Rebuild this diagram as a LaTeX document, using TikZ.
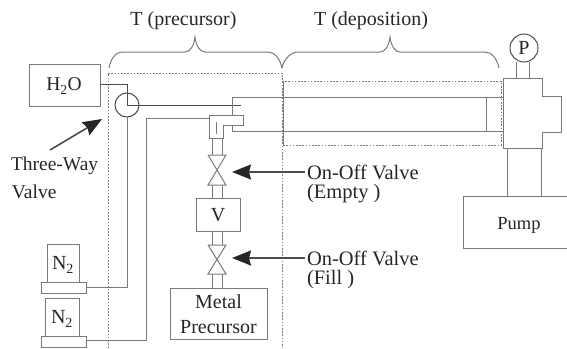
\documentclass[tikz,border=0pt]{standalone}
\usepackage{fontspec}
\setmainfont{Liberation Serif}
\usetikzlibrary{arrows.meta}
\definecolor{ln}{gray}{0.48}
\definecolor{dk}{gray}{0.3}
\definecolor{tx}{gray}{0.15}
\tikzset{
  every node/.style={text=tx,font=\fontsize{20}{22}\selectfont,inner sep=0pt,outer sep=0pt},
  box/.style={draw=ln,line width=1pt,anchor=north west},
  ln/.style={draw=ln,line width=1pt},
  pipe/.style={draw=dk,line width=1pt},
  dsh/.style={draw=ln,line width=1pt,dash pattern=on 1.6pt off 1.6pt},
  brc/.style={draw=ln,line width=1pt},
  ar/.style={draw=dk,line width=1.6pt,-{Stealth[inset=2pt,length=19pt,width=15pt,color=black!85]}},
  lab/.style={anchor=west,align=left,font=\fontsize{20.5}{22}\selectfont}
}
\newcommand{\bx}[5]{\node[box,minimum width=#4pt-#2pt,minimum height=#5pt-#3pt] (#1) at (#2,#3) {};}
\newcommand{\brcdraw}[5]{\draw[brc] (#1,68) .. controls (#1+2,58) and (#2-6,52) .. (#2,52) -- (#3-10,52) .. controls (#3-5,52) and (#3-1,46) .. (#3,37) .. controls (#3+1,46) and (#3+5,52) .. (#3+10,52) -- (#4,52) .. controls (#4+6,52) and (#5-2,58) .. (#5,68);}
\begin{document}
\begin{tikzpicture}[x=1pt,y=-1pt]
\useasboundingbox (0,0) rectangle (567,348);
% dashed zones
\coordinate (zpa) at (108,73); \coordinate (zpb) at (282,73);
\coordinate (zpc) at (282,348); \coordinate (zpd) at (108,348);
\draw[dsh] (zpd) -- (zpa) -- (zpb) -- (zpc);
\coordinate (zda) at (282,81); \coordinate (zdb) at (501,81);
\coordinate (zdc) at (501,145); \coordinate (zdd) at (282,145);
\draw[dsh] (zda) -- (zdb) -- (zdc) -- (zdd);
% boxes
\bx{water}{29}{64}{100}{106}
\node[font=\fontsize{19.5}{22}\selectfont] at (64,86) {H\textsubscript{2}O};
\node[draw=dk,line width=1pt,circle,minimum size=24pt] (tw) at (127,105) {};
\bx{na}{47}{244}{79}{282}
\node at (63,265) {N\textsubscript{2}};
\bx{fa}{41}{282}{86}{293}
\bx{nb}{45}{298}{79}{336}
\node at (62,319) {N\textsubscript{2}};
\bx{fb}{41}{336}{86}{347}
\bx{vol}{196}{198}{240}{231}
\node at (218,215) {V};
\node[box,minimum width=97pt,minimum height=51pt] (metal) at (170,288) {};
\node[align=center,font=\fontsize{20}{25}\selectfont] at (218.5,314) {Metal\\Precursor};
\bx{pump}{463}{196}{567}{248}
\node[font=\fontsize{18.5}{20}\selectfont] at (519,225) {Pump};
\node[draw=dk,line width=1pt,circle,minimum size=28pt] (gauge) at (524,48) {};
\node at (524,48) {P};
% gas lines
\coordinate (c1) at (127,84);
\coordinate (c2) at (127,105);
\coordinate (c3) at (241,105);
\coordinate (c4) at (127,287);
\coordinate (c5) at (146,118);
\coordinate (c6) at (146,340);
\coordinate (c7) at (210,118);
\draw[pipe] (water.east |- c1) -- (c1) -- (tw.north);
\draw[pipe] (tw.north) -- (c2) -- (c3);
\draw[ln] (tw.south) -- (c4) -- (fa.east |- c4);
\draw[ln] (c7) -- (c5) -- (c6) -- (fb.east |- c6);
% deposition tube
\coordinate (t1) at (232,97); \coordinate (t2) at (503,97);
\coordinate (t3) at (232,131); \coordinate (t4) at (503,131);
\coordinate (t5) at (232,115); \coordinate (t6) at (232,125);
\draw[ln] (t5) -- (t1) -- (t2);
\draw[ln] (t6) -- (t3) -- (t4);
\coordinate (s1) at (283,81); \coordinate (s2) at (283,145);
\draw[ln] (s1) -- (s2);
\coordinate (r1) at (486,97); \coordinate (r2) at (486,131);
\draw[ln] (r1) -- (r2);
% elbow
\coordinate (e1) at (209,138); \coordinate (e2) at (209,115);
\coordinate (e3) at (243,115); \coordinate (e4) at (243,125);
\coordinate (e5) at (223,125); \coordinate (e6) at (223,138);
\coordinate (e7) at (216,122); \coordinate (e8) at (216,134);
\draw[ln] (e1) -- (e2) -- (e3) -- (e4) -- (e5) -- (e6) -- (e1);
\draw[ln] (e7) -- (e8);
% valves
\coordinate (v1a) at (208,155); \coordinate (v1b) at (226,155);
\coordinate (v1c) at (208,185); \coordinate (v1d) at (226,185);
\draw[ln] (v1a) -- (v1b) -- (v1c) -- (v1d) -- (v1a);
\coordinate (v2a) at (208,245); \coordinate (v2b) at (226,245);
\coordinate (v2c) at (208,274); \coordinate (v2d) at (226,274);
\draw[ln] (v2a) -- (v2b) -- (v2c) -- (v2d) -- (v2a);
% short pipes
\foreach \xx in {212,222} {
  \coordinate (p1) at (\xx,138); \coordinate (p2) at (\xx,155);
  \draw[ln] (p1) -- (p2);
  \coordinate (p3) at (\xx,185); \coordinate (p4) at (\xx,198);
  \draw[ln] (p3) -- (p4);
  \coordinate (p5) at (\xx,231); \coordinate (p6) at (\xx,245);
  \draw[ln] (p5) -- (p6);
  \coordinate (p7) at (\xx,274); \coordinate (p8) at (\xx,288);
  \draw[ln] (p7) -- (p8);
}
% pump cross
\coordinate (x1) at (503,78); \coordinate (x2) at (542,78);
\coordinate (x3) at (542,96); \coordinate (x4) at (561,96);
\coordinate (x5) at (561,132); \coordinate (x6) at (542,132);
\coordinate (x7) at (542,148); \coordinate (x8) at (503,148);
\draw[ln] (x1) -- (x2) -- (x3) -- (x4) -- (x5) -- (x6) -- (x7) -- (x8) -- cycle;
\coordinate (y1) at (507,148); \coordinate (y2) at (507,196);
\coordinate (y3) at (541,148); \coordinate (y4) at (541,196);
\draw[ln] (y1) -- (y2); \draw[ln] (y3) -- (y4);
\coordinate (g1) at (516,62); \coordinate (g2) at (516,78);
\coordinate (g3) at (529,62); \coordinate (g4) at (529,78);
\draw[ln] (g1) -- (g2); \draw[ln] (g3) -- (g4);
% braces
\brcdraw{109}{122}{195}{268}{282}
\brcdraw{282}{298}{390}{485}{499}
\node (tp) at (183.5,21) {T (precursor)};
\node (td) at (371,21) {T (deposition)};
% labels and arrows
\node[anchor=west,font=\fontsize{19.5}{20}\selectfont] (twl) at (11,166) {Three-Way};
\node[anchor=west,font=\fontsize{19.5}{20}\selectfont] (twm) at (12,192) {Valve};
\coordinate (a1) at (50,150); \coordinate (a2) at (102,119);
\draw[ar] (a1) -- (a2);
\node[lab] (oe) at (307,172) {On-Off Valve};
\node[lab] (oe2) at (307,194) {(Empty )};
\node[lab] (of) at (307,258) {On-Off Valve};
\node[lab] (of2) at (307,280) {(Fill )};
\coordinate (a3) at (232,172); \coordinate (a4) at (232,258);
\draw[ar] ([xshift=-2pt]oe.west) -- (a3);
\draw[ar] ([xshift=-2pt]of.west) -- (a4);
\end{tikzpicture}
\end{document}
